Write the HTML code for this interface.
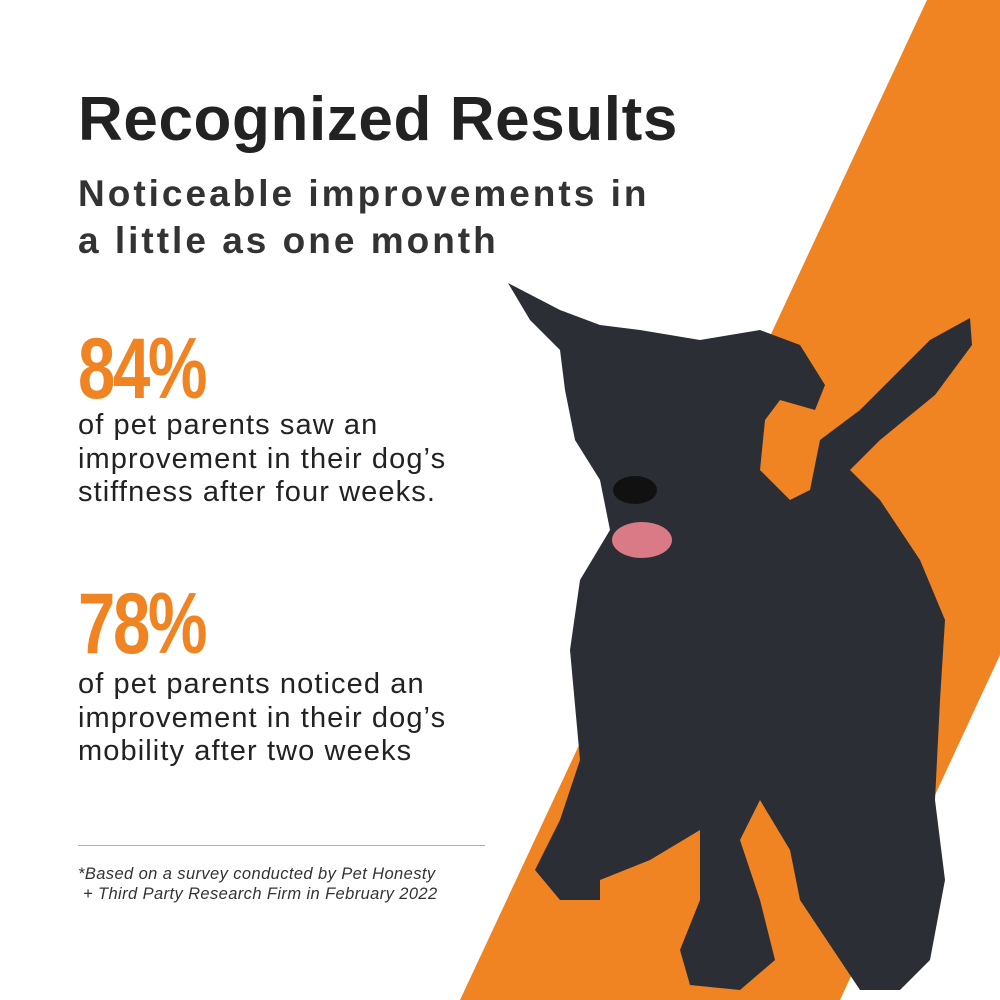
<!DOCTYPE html>
<html><head><meta charset="utf-8"><style>
body{margin:0;width:1000px;height:1000px;overflow:hidden;background:#fff;font-family:"Liberation Sans",sans-serif;position:relative}
.t{position:absolute;left:78px;color:#222;white-space:nowrap}
</style></head><body>
<svg width="1000" height="1000" style="position:absolute;left:0;top:0">
<polygon points="927,0 1000,0 1000,655 840,1000 460,1000" fill="#f08322"/>
<g fill="#2b2e35">
<path d="M508,283 L560,310 L600,325 L640,330 L700,340 L760,330 L800,345 L825,385 L815,410 L780,400 L765,420 L760,470 L790,500 L810,490 L820,440 L860,410 L930,340 L970,318 L972,345 L935,395 L880,440 L850,470 L880,500 L920,560 L945,620 L940,700 L935,800 L945,880 L930,960 L900,990 L860,990 L840,960 L800,900 L790,850 L760,800 L740,840 L760,900 L775,960 L740,990 L690,985 L680,950 L700,900 L700,830 L650,860 L600,880 L600,900 L560,900 L535,870 L560,820 L580,760 L570,650 L580,580 L610,530 L600,480 L575,440 L565,390 L560,350 L530,320 Z"/>
</g>
<ellipse cx="642" cy="540" rx="30" ry="18" fill="#d97a86"/>
<ellipse cx="635" cy="490" rx="22" ry="14" fill="#111"/>
</svg>
<div class="t" style="top:84px;font-size:62px;font-weight:bold;letter-spacing:0.6px">Recognized Results</div>
<div class="t" style="top:170px;font-size:37px;line-height:47px;font-weight:bold;color:#333;letter-spacing:3px">Noticeable improvements in<br>a little as one month</div>
<div class="t" style="top:320px;font-size:86px;font-weight:bold;color:#f08322;transform:scaleX(0.78);transform-origin:left;letter-spacing:-3px">84%</div>
<div class="t" style="top:409px;font-size:29px;line-height:33.5px;letter-spacing:1.1px">of pet parents saw an<br>improvement in their dog’s<br>stiffness after four weeks.</div>
<div class="t" style="top:575px;font-size:86px;font-weight:bold;color:#f08322;transform:scaleX(0.78);transform-origin:left;letter-spacing:-3px">78%</div>
<div class="t" style="top:668px;font-size:29px;line-height:33.5px;letter-spacing:1.1px">of pet parents noticed an<br>improvement in their dog’s<br>mobility after two weeks</div>
<div style="position:absolute;left:78px;top:845px;width:407px;height:1px;background:#f0a060"></div>
<div class="t" style="top:864px;font-size:16.5px;line-height:20px;font-style:italic;color:#333;letter-spacing:0.4px">*Based on a survey conducted by Pet Honesty<br>&nbsp;+ Third Party Research Firm in February 2022</div>
</body></html>
